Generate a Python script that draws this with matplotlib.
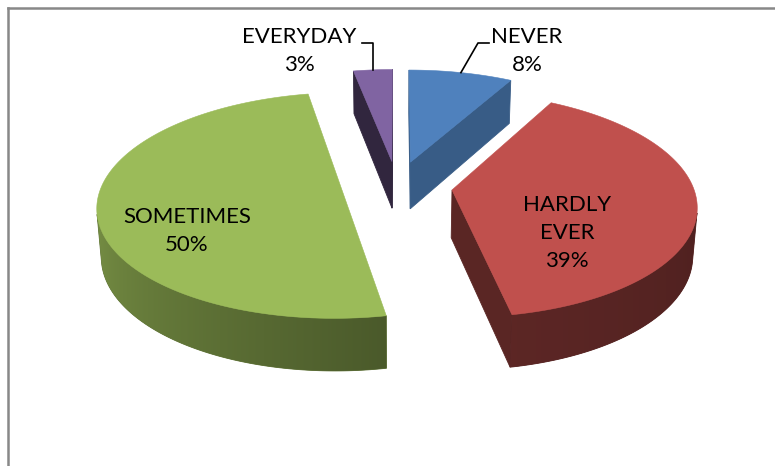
import numpy as np
import matplotlib
matplotlib.use('Agg')
import matplotlib.pyplot as plt
from matplotlib.patches import Polygon
from matplotlib.colors import to_rgb

# survey answers, clockwise from 12 o'clock
categories = ['NEVER', 'HARDLY EVER', 'SOMETIMES', 'EVERYDAY']
percent = [8, 39, 50, 3]

top_colors = ['#4F81BD', '#C0504D', '#9BBB59', '#8064A2']
cut_shade = [0.71, 0.47, 0.47, 0.38]

# 3d view of the pie (unit radius disk, camera tilted above the front)
tilt = np.radians(27.1)
dist = 6.9
focal = 1663.0
cx, cy = 397.0, 186.0
thick = 0.225
explode = 0.23

cam = np.array([0.0, -dist * np.cos(tilt), dist * np.sin(tilt)])


def project(px, py, pz):
    w = dist + py * np.cos(tilt) - pz * np.sin(tilt)
    v = py * np.sin(tilt) + pz * np.cos(tilt)
    return cx + focal * px / w, cy - focal * v / w


def shade(col, k):
    r, g, b = to_rgb(col)
    return (r * k, g * k, b * k)


def side_shade(deg):
    return np.interp(deg, [90, 169, 270], [0.40, 0.48, 0.80])


fig = plt.figure(figsize=(7.75, 4.66), dpi=100)
ax = fig.add_axes([0, 0, 1, 1])
ax.set_xlim(0, 775)
ax.set_ylim(466, 0)
ax.axis('off')

total = float(sum(percent))
bounds = np.concatenate([[0], np.cumsum(percent)]) / total * 2 * np.pi

slices = []
for i in range(len(percent)):
    t0, t1 = bounds[i], bounds[i + 1]
    tm = 0.5 * (t0 + t1)
    ox, oy = explode * np.sin(tm), explode * np.cos(tm)
    slices.append((i, t0, t1, tm, ox, oy))

# far slices first
slices.sort(key=lambda s: -s[5])

anchors = {}
for i, t0, t1, tm, ox, oy in slices:
    col = top_colors[i]

    # flat cut faces
    for t, sgn in ((t0, -1), (t1, 1)):
        n = np.array([sgn * np.cos(t), -sgn * np.sin(t), 0.0])
        p = np.array([ox + 0.5 * np.sin(t), oy + 0.5 * np.cos(t), -thick / 2])
        if np.dot(n, cam - p) > 0:
            pts = [project(ox, oy, 0), project(ox + np.sin(t), oy + np.cos(t), 0),
                   project(ox + np.sin(t), oy + np.cos(t), -thick), project(ox, oy, -thick)]
            c = shade(col, cut_shade[i])
            ax.add_patch(Polygon(pts, closed=True, facecolor=c, edgecolor=c, lw=0.6))

    # curved outer wall: keep the part facing the camera, fill with a gradient
    th = np.linspace(t0, t1, 400)
    nrm = np.stack([np.sin(th), np.cos(th), np.zeros_like(th)], axis=1)
    pos = np.stack([ox + np.sin(th), oy + np.cos(th), np.full_like(th, -thick / 2)], axis=1)
    vis = np.einsum('ij,ij->i', nrm, cam - pos) > 0
    if vis.any():
        tv = th[vis]
        tx, ty = project(ox + np.sin(tv), oy + np.cos(tv), 0)
        bx, by = project(ox + np.sin(tv), oy + np.cos(tv), -thick)
        wall = np.concatenate([np.stack([tx, ty], 1), np.stack([bx, by], 1)[::-1]])
        k = side_shade(np.degrees(tv))
        c0 = shade(col, float(k.mean()))
        patch = Polygon(wall, closed=True, facecolor=c0, edgecolor=c0, lw=0.6)
        ax.add_patch(patch)
        xs = np.linspace(wall[:, 0].min(), wall[:, 0].max(), 300)
        order = np.argsort(tx)
        kx = np.interp(xs, tx[order], k[order])
        rgb = np.array(to_rgb(col))
        img = (kx[:, None] * rgb[None, :])[None, :, :]
        im = ax.imshow(img, extent=[xs[0], xs[-1], wall[:, 1].max(), wall[:, 1].min()],
                       aspect='auto', interpolation='bilinear', zorder=patch.get_zorder())
        im.set_clip_path(patch)

    top = [project(ox, oy, 0)] + [project(ox + np.sin(t), oy + np.cos(t), 0) for t in np.linspace(t0, t1, 200)]
    ax.add_patch(Polygon(top, closed=True, facecolor=col, edgecolor=col, lw=0.4, zorder=2))

    anchors[i] = project(ox + np.sin(tm), oy + np.cos(tm), 0)

ax.set_xlim(0, 775)
ax.set_ylim(466, 0)

font = dict(family='Lato', fontsize=16, color='black', ha='center', va='center',
            linespacing=1.5, zorder=5)

# labels on the slices
ax.text(187, 231, categories[2].replace(' ', '\n') + '\n%d%%' % percent[2], **font)
ax.text(567, 233, categories[1].replace(' ', '\n') + '\n%d%%' % percent[1], **font)

# labels outside with leader lines
ax.text(299, 51, categories[3] + '\n%d%%' % percent[3], **font)
ax.text(527, 51, categories[0] + '\n%d%%' % percent[0], **font)

xa, ya = anchors[3]
ax.plot([362, xa, xa], [43, 43, ya], color='black', lw=1.2, zorder=5)
xa, ya = anchors[0]
ax.plot([489, 478, xa], [43, 43, ya], color='black', lw=1.2, zorder=5)

# chart frame
ax.plot([8, 775], [8, 8], color='#888888', lw=1.8, solid_capstyle='projecting', clip_on=False)
ax.plot([8, 8], [8, 466], color='#888888', lw=1.8, solid_capstyle='projecting', clip_on=False)

fig.savefig('out.png', dpi=100)
